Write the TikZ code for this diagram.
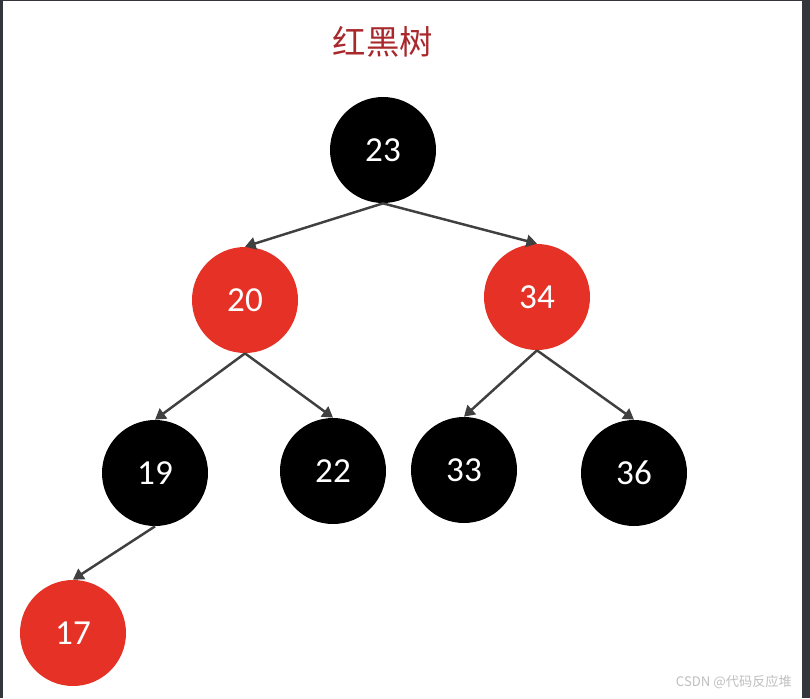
\documentclass[tikz,border=0pt]{standalone}
\usepackage{fontspec}
\setsansfont{Carlito}
\newfontfamily\cjk{Noto Sans CJK SC}
\usetikzlibrary{arrows.meta}
\definecolor{rbred}{RGB}{230,50,38}
\definecolor{titlered}{RGB}{168,40,44}
\definecolor{edgegray}{RGB}{64,64,64}
\definecolor{framegray}{RGB}{51,54,58}
\tikzset{
	rbnode/.style={circle, minimum size=2.12cm, inner sep=0pt, text=white,
		font=\sffamily\fontsize{20}{24}\selectfont},
	blacknode/.style={rbnode, fill=black},
	rednode/.style={rbnode, fill=rbred},
	link/.style={draw=edgegray, line width=1.4pt, -{Triangle[length=6pt,width=7pt]}}
}
\begin{document}
\begin{tikzpicture}
	\useasboundingbox (0,0) rectangle (16.2,13.96);
	\fill[white] (0,0) rectangle (16.2,13.96);
	% screenshot frame
	\fill[framegray] (0,0) rectangle (0.06,13.96);
	\fill[framegray] (0,13.94) rectangle (16.2,13.96);
	\fill[framegray] (16.04,0) rectangle (16.2,13.96);

	\node (title) at (7.66,13.12) {\cjk\fontsize{19}{22}\selectfont\color{titlered}红黑树};

	\node[blacknode] (n23) at (7.66,10.96) {23};
	\node[rednode] (n20) at (4.90,7.96) {20};
	\node[rednode] (n34) at (10.74,8.02) {34};
	\node[blacknode] (n19) at (3.10,4.50) {19};
	\node[blacknode] (n22) at (6.66,4.54) {22};
	\node[blacknode] (n33) at (9.28,4.56) {33};
	\node[blacknode] (n36) at (12.68,4.50) {36};
	\node[rednode] (n17) at (1.46,1.30) {17};

	\draw[link] (n23.south) -- (n20.north);
	\draw[link] (n23.south) -- (n34.north);
	\draw[link] (n20.south) -- (n19.north);
	\draw[link] (n20.south) -- (n22.north);
	\draw[link] (n34.south) -- (n33.north);
	\draw[link] (n34.south) -- (n36.north);
	\draw[link] (n19.south) -- (n17.north);

	\node[anchor=east, text=black!25, font=\cjk\fontsize{7.5}{9}\selectfont] (mark) at (15.96,0.32) {CSDN @代码反应堆};
\end{tikzpicture}
\end{document}
